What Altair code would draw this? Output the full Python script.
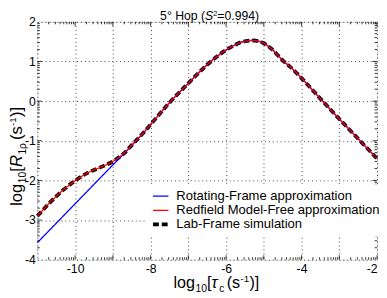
import altair as alt
import pandas as pd
import numpy as np

FONT = "Liberation Sans"

# ---- data ----
series_names = ["Rotating-Frame approximation", "Redfield Model-Free approximation", "Lab-Frame simulation"]

tau_red = [-11.0, -10.7, -10.35, -10.0, -9.67, -9.33, -9.0, -8.72, -8.47, -8.2, -8.0, -7.5, -7.0, -6.5,
           -6.0, -5.8, -5.55, -5.3, -5.1, -5.0, -4.8, -4.5, -4.25, -4.0, -3.5, -3.0, -2.5, -2.0]
r_red = [-2.90, -2.59, -2.27, -2.01, -1.81, -1.67, -1.52, -1.33, -1.08, -0.81, -0.59, -0.04, 0.45, 0.92,
         1.29, 1.40, 1.50, 1.53, 1.50, 1.46, 1.32, 1.03, 0.82, 0.58, 0.06, -0.45, -0.95, -1.45]

tau_lab = list(tau_red)
r_lab = [-2.90, -2.59, -2.27, -2.01, -1.81, -1.67, -1.52, -1.33, -1.08, -0.81, -0.59, -0.04, 0.45, 0.92,
         1.29, 1.40, 1.50, 1.53, 1.50, 1.46, 1.32, 1.03, 0.82, 0.58, 0.06, -0.45, -0.95, -1.45]

tau_blue = [-11.0, -10.0, -9.0, -8.6, -8.47, -8.2, -8.0, -7.5, -7.0, -6.5, -6.0, -5.8, -5.55, -5.3, -5.1,
            -5.0, -4.8, -4.5, -4.25, -4.0, -3.5, -3.0, -2.5, -2.0]
r_blue = [-3.57, -2.59, -1.61, -1.22, -1.09, -0.81, -0.59, -0.04, 0.45, 0.92, 1.29, 1.40, 1.50, 1.53, 1.50,
          1.46, 1.32, 1.03, 0.82, 0.58, 0.06, -0.45, -0.95, -1.45]

x_major = list(range(-11, -1))
y_major = list(range(-4, 3))

df = pd.concat([
    pd.DataFrame({"tau": tau_lab, "r": r_lab, "series": series_names[2]}),
    pd.DataFrame({"tau": tau_blue, "r": r_blue, "series": series_names[0]}),
    pd.DataFrame({"tau": tau_red, "r": r_red, "series": series_names[1]}),
])

W, H = 347, 243
xs = alt.Scale(domain=[-11, -2], nice=False, zero=False)
ys = alt.Scale(domain=[-4, 2], nice=False, zero=False)

NB = "\u00a0\u00a0"
x_axis = alt.Axis(values=x_major,
                  labelExpr="datum.value % 2 == 0 ? toString(datum.value) + '" + NB + "' : ''",
                  ticks=False, domain=False, grid=True, gridDash=[1, 3], gridColor="#444",
                  labelFont=FONT, labelFontSize=12.5, labelColor="black", labelPadding=3)
y_axis = alt.Axis(values=y_major, labelExpr="toString(datum.value)", ticks=False, domain=False,
                  grid=True, gridDash=[1, 3], gridColor="#444", labelFont=FONT, labelFontSize=12.5,
                  labelColor="black", labelPadding=2)

LEG = dict(orient="none", legendX=111, legendY=166, title=None)
color = alt.Color("series:N", scale=alt.Scale(domain=series_names, range=["#0000ff", "#ff0000", "#000000"]),
                  legend=alt.Legend(padding=5, fillColor="white", symbolType="stroke", symbolSize=250,
                                    labelFont=FONT, labelFontSize=13.3, labelOffset=6, rowPadding=0.5,
                                    labelColor="black", clipHeight=14, labelLimit=400, **LEG))
dash = alt.StrokeDash("series:N", scale=alt.Scale(domain=series_names, range=[[1, 0], [1, 0], [6, 3]]),
                      legend=alt.Legend(labelLimit=400, **LEG))
width_enc = alt.StrokeWidth("series:N",
                            scale=alt.Scale(type="ordinal", domain=series_names, range=[1.3, 1.3, 3.8]),
                            legend=alt.Legend(labelLimit=400, **LEG))

base = alt.Chart(df).mark_line(interpolate="monotone").encode(
    x=alt.X("tau:Q", scale=xs, title=None, axis=x_axis),
    y=alt.Y("r:Q", scale=ys, title=None, axis=y_axis),
    color=color, strokeDash=dash, strokeWidth=width_enc,
)

lines = [base.transform_filter(alt.datum.series == s) for s in [series_names[2], series_names[0], series_names[1]]]

# ---- inward ticks (major + log-style minor) ----
xminor = [k + np.log10(m) for k in range(-11, -2) for m in range(2, 10)]
yminor = [k + np.log10(m) for k in range(-4, 2) for m in range(2, 10)]
tdf_x = pd.DataFrame({"v": xminor})
tdf_y = pd.DataFrame({"v": yminor})
tdf_xM = pd.DataFrame({"v": x_major[1:]})
tdf_yM = pd.DataFrame({"v": y_major[1:-1]})

def xticks(d, top, ln):
    c = alt.Chart(d).mark_rule(color="black", strokeWidth=0.8)
    xe = alt.X("v:Q", scale=xs, title=None, axis=x_axis)
    if top:
        return c.encode(x=xe, y=alt.value(0), y2=alt.value(ln))
    return c.encode(x=xe, y=alt.value(H), y2=alt.value(H - ln))

def yticks(d, right, ln):
    c = alt.Chart(d).mark_rule(color="black", strokeWidth=0.8)
    ye = alt.Y("v:Q", scale=ys, title=None, axis=y_axis)
    if right:
        return c.encode(y=ye, x=alt.value(W), x2=alt.value(W - ln))
    return c.encode(y=ye, x=alt.value(0), x2=alt.value(ln))

tick_layers = [xticks(tdf_x, False, 2.5), xticks(tdf_x, True, 2.5), yticks(tdf_y, False, 2.5),
               yticks(tdf_y, True, 2.5), xticks(tdf_xM, False, 4.5), xticks(tdf_xM, True, 4.5),
               yticks(tdf_yM, False, 4.5), yticks(tdf_yM, True, 4.5)]

# ---- rich text titles: (text, size, style, raise, gap-before) ----
CW = {'l': .222, 'o': .556, 'g': .556, '[': .278, ']': .278, '(': .333, ')': .333, ' ': .278,
      '\u00a0': .278, 's': .5, '-': .333, '1': .556, '0': .556, 'c': .5, 'τ': .45, 'R': .722, 'ρ': .57,
      '5': .556, '°': .4, 'H': .722, 'p': .556, 'S': .667, '2': .556, '=': .584, '.': .278, '9': .556,
      '4': .556}
one = pd.DataFrame({"a": [0]})

def rich(pieces, x0, y0, rotate=False):
    out = []
    pos = 0.0
    for text, size, style, shift, gap in pieces:
        pos += gap
        w = sum(CW.get(ch, .556) for ch in text) * size
        if rotate:
            x, y = x0 - shift, y0 - pos
        else:
            x, y = x0 + pos, y0 - shift
        out.append(alt.Chart(one).mark_text(text=text, font=FONT, fontSize=size, fontStyle=style,
                                            align="left", baseline="alphabetic", angle=270 if rotate else 0,
                                            color="black").encode(x=alt.value(x), y=alt.value(y)))
        pos += w
    return out

title_pieces = [("5°\u00a0Hop\u00a0(", 12.5, "normal", 0, 0), ("S", 12.5, "italic", 0, 0),
                ("2", 7.5, "normal", 4, 0), ("=0.994)", 12.5, "normal", 0, 0)]
tw = sum(sum(CW.get(ch, .556) for ch in t) * s for t, s, _, _, _ in title_pieces)
title_layers = rich(title_pieces, 176 - tw / 2, -2)

xt_pieces = [("log", 16.5, "normal", 0, 0), ("10", 10.5, "normal", -4, 0.5), ("[", 16.5, "normal", 0, 0),
             ("τ", 16.5, "italic", 0, 0), ("c", 10.5, "normal", -4, 0.5), ("(s", 16.5, "normal", 0, 2.5),
             ("-1", 10, "normal", 7, 0.3), (")]", 16.5, "normal", 0, 0.3)]
xt_layers = rich(xt_pieces, 139, 272.3)

yt_pieces = [("log", 17, "normal", 0, 0), ("10", 10.5, "normal", -4, 0.5), ("[", 17, "normal", 0, 0),
             ("R", 17, "italic", 0, 0), ("1ρ", 10.5, "normal", -4, 0.5), ("(s", 17, "normal", 0, 3),
             ("-1", 10, "normal", 6, 0.3), (")]", 17, "normal", 0, 0.3)]
yt_layers = rich(yt_pieces, -15.5, 188, rotate=True)

chart = alt.layer(*lines, *tick_layers, *title_layers, *xt_layers, *yt_layers).properties(
    width=W, height=H,
    autosize=alt.AutoSizeParams(type="none"),
    padding={"left": 30, "top": 11, "right": 2, "bottom": 36},
).configure_view(stroke="black", strokeWidth=1).configure(background="white")

chart.save("out.html", embed_options={"renderer": "svg", "actions": False})
